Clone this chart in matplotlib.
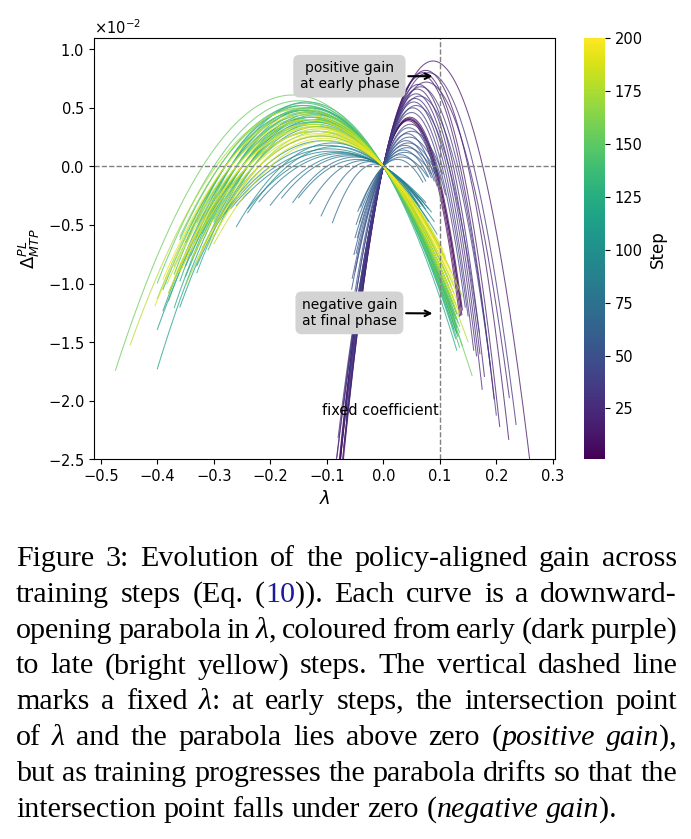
import numpy as np
import matplotlib
matplotlib.use('Agg')
import matplotlib.pyplot as plt
from matplotlib import cm, colors
from matplotlib.ticker import ScalarFormatter

# one parabola per (sampled) training step, passing through the origin
# peak_val is in units of 1e-2
steps = list(range(1, 200, 2))
peak_lam = [0.046, 0.045, 0.047, 0.044, 0.046, 0.088, 0.075, 0.070, 0.068, 0.062,
            0.076, 0.060, 0.058, 0.056, 0.080, 0.054, 0.066, 0.052, 0.064, 0.050,
            0.058, 0.048, 0.045, 0.050, 0.042, 0.046, 0.040, 0.044, 0.038, 0.042,
            0.035, 0.038, 0.030, 0.032, 0.025, -0.015, -0.025, -0.035, -0.045, -0.050,
            -0.060, -0.065, -0.075, -0.080, -0.090, -0.095, -0.085, -0.100, -0.090, -0.105,
            -0.110, -0.120, -0.115, -0.125, -0.130, -0.120, -0.135, -0.125, -0.140, -0.130,
            -0.135, -0.120, -0.140, -0.125, -0.130, -0.115, -0.135, -0.120, -0.140, -0.125,
            -0.130, -0.145, -0.120, -0.135, -0.150, -0.125, -0.140, -0.160, -0.130, -0.145,
            -0.120, -0.135, -0.110, -0.140, -0.125, -0.115, -0.130, -0.120, -0.148, -0.110,
            -0.125, -0.100, -0.130, -0.115, -0.135, -0.105, -0.120, -0.140, -0.110, -0.125]
peak_val = [0.41, 0.40, 0.42, 0.39, 0.40, 0.90, 0.82, 0.80, 0.78, 0.70,
            0.72, 0.66, 0.62, 0.58, 0.80, 0.55, 0.68, 0.50, 0.60, 0.46,
            0.52, 0.36, 0.33, 0.30, 0.28, 0.25, 0.22, 0.20, 0.18, 0.16,
            0.14, 0.12, 0.10, 0.08, 0.06, 0.02, 0.04, 0.05, 0.06, 0.08,
            0.09, 0.10, 0.11, 0.12, 0.13, 0.15, 0.17, 0.18, 0.20, 0.22,
            0.26, 0.30, 0.34, 0.38, 0.42, 0.40, 0.48, 0.45, 0.52, 0.50,
            0.55, 0.44, 0.48, 0.42, 0.46, 0.38, 0.50, 0.36, 0.54, 0.40,
            0.47, 0.52, 0.38, 0.44, 0.56, 0.42, 0.48, 0.61, 0.40, 0.50,
            0.34, 0.42, 0.30, 0.46, 0.36, 0.32, 0.40, 0.30, 0.49, 0.26,
            0.34, 0.22, 0.36, 0.28, 0.40, 0.24, 0.30, 0.44, 0.27, 0.33]
lam_lo = [-0.090, -0.088, -0.086, -0.085, -0.087, -0.085, -0.080, -0.078, -0.076, -0.072,
          -0.080, -0.068, -0.070, -0.066, -0.082, -0.064, -0.074, -0.062, -0.070, -0.060,
          -0.066, -0.058, -0.055, -0.056, -0.052, -0.055, -0.050, -0.052, -0.048, -0.050,
          -0.046, -0.048, -0.042, -0.045, -0.040, -0.090, -0.110, -0.130, -0.150, -0.160,
          -0.180, -0.200, -0.220, -0.240, -0.260, -0.270, -0.240, -0.280, -0.260, -0.300,
          -0.300, -0.320, -0.330, -0.350, -0.400, -0.360, -0.390, -0.400, -0.350, -0.370,
          -0.360, -0.330, -0.390, -0.350, -0.330, -0.310, -0.380, -0.300, -0.370, -0.320,
          -0.340, -0.360, -0.300, -0.330, -0.400, -0.310, -0.340, -0.474, -0.320, -0.360,
          -0.340, -0.370, -0.300, -0.400, -0.330, -0.350, -0.380, -0.360, -0.448, -0.320,
          -0.380, -0.300, -0.383, -0.340, -0.404, -0.310, -0.360, -0.390, -0.330, -0.370]
lam_hi = [0.139, 0.137, 0.140, 0.135, 0.138, 0.262, 0.222, 0.206, 0.196, 0.179,
          0.223, 0.171, 0.175, 0.165, 0.235, 0.160, 0.200, 0.150, 0.190, 0.145,
          0.170, 0.110, 0.100, 0.105, 0.095, 0.100, 0.090, 0.095, 0.085, 0.092,
          0.080, 0.085, 0.075, 0.078, 0.070, 0.060, 0.065, 0.060, 0.070, 0.065,
          0.070, 0.075, 0.070, 0.080, 0.075, 0.085, 0.080, 0.090, 0.085, 0.095,
          0.100, 0.110, 0.115, 0.120, 0.130, 0.125, 0.130, 0.132, 0.130, 0.128,
          0.130, 0.125, 0.132, 0.128, 0.130, 0.120, 0.130, 0.115, 0.135, 0.122,
          0.128, 0.135, 0.120, 0.128, 0.140, 0.125, 0.130, 0.157, 0.125, 0.135,
          0.120, 0.128, 0.115, 0.130, 0.125, 0.118, 0.130, 0.140, 0.150, 0.110,
          0.125, 0.105, 0.128, 0.118, 0.130, 0.110, 0.120, 0.135, 0.112, 0.125]

fixed_lam = 0.1

caption_lines = [
    "Figure 3: Evolution of the policy-aligned gain across",
    "training steps (Eq. (#10#)). Each curve is a downward-",
    "opening parabola in *λ*, coloured from early (dark purple)",
    "to late (bright yellow) steps. The vertical dashed line",
    "marks a fixed *λ*: at early steps, the intersection point",
    "of *λ* and the parabola lies above zero (*positive gain*),",
    "but as training progresses the parabola drifts so that the",
    "intersection point falls under zero (*negative gain*).",
]

fig = plt.figure(figsize=(6.91, 8.39), dpi=100)
ax = fig.add_axes([0.1365, 0.4526, 0.6671, 0.5018])
cax = fig.add_axes([0.8456, 0.4526, 0.030, 0.5018])

cmap = plt.get_cmap('viridis')
norm = colors.Normalize(vmin=1, vmax=200)

for s, lp, pv, lo, hi in zip(steps, peak_lam, peak_val, lam_lo, lam_hi):
    lam = np.linspace(lo, hi, 300)
    gain = pv * (1 - ((lam - lp) / lp) ** 2) * 1e-2
    ax.plot(lam, gain, color=cmap(norm(s)), lw=0.75, alpha=0.75)

ax.axhline(0, color='gray', ls='--', lw=1)
ax.axvline(fixed_lam, color='gray', ls='--', lw=1)

ax.set_xlim(-0.5115, 0.3044)
ax.set_ylim(-0.025, 0.01094)
fmt = ScalarFormatter(useMathText=True)
fmt.set_powerlimits((-2, -2))
ax.yaxis.set_major_formatter(fmt)
ax.tick_params(labelsize=10.5)
ax.yaxis.get_offset_text().set_fontsize(10.5)
ax.set_xlabel(r'$\lambda$', fontsize=13)
ax.set_ylabel(r'$\Delta^{PL}_{MTP}$', fontsize=13)

box = dict(boxstyle='round,pad=0.45', fc='lightgray', ec='none')
arrow = dict(arrowstyle='->', color='black', lw=1.5)
ax.annotate('positive gain\nat early phase', xy=(0.092, 0.0077), xytext=(-0.06, 0.0077),
            ha='center', va='center', fontsize=10, bbox=box, arrowprops=arrow)
ax.annotate('negative gain\nat final phase', xy=(0.092, -0.01255), xytext=(-0.06, -0.0125),
            ha='center', va='center', fontsize=10, bbox=box, arrowprops=arrow)
ax.text(0.098, -0.0208, 'fixed coefficient', ha='right', va='center', fontsize=10.5)

cb = fig.colorbar(cm.ScalarMappable(norm=norm, cmap=cmap), cax=cax)
cb.set_ticks([25, 50, 75, 100, 125, 150, 175, 200])
cb.ax.tick_params(labelsize=10.5)
cb.set_label('Step', fontsize=12)
cb.outline.set_visible(False)


def parse_runs(line):
    words = []
    italic = blue = False
    for word in line.split(' '):
        runs, buf = [], ''
        for ch in word:
            if ch in '*#':
                if buf:
                    runs.append((buf, italic, blue))
                    buf = ''
                if ch == '*':
                    italic = not italic
                else:
                    blue = not blue
            else:
                buf += ch
        if buf:
            runs.append((buf, italic, blue))
        words.append(runs)
    return words


# justified caption, placed word by word in pixel units
renderer = fig.canvas.get_renderer()
W, H = fig.get_size_inches() * fig.dpi
cap_size = 21.6
left, right = 16, 677
base0, line_gap = 566, 35.8
space = 0.25 * cap_size * fig.dpi / 72
for i, line in enumerate(caption_lines):
    y = 1 - (base0 + i * line_gap) / H
    placed, widths = [], []
    for runs in parse_runs(line):
        items, ww = [], 0
        for s, it, bl in runs:
            t = fig.text(0, y, s, fontsize=cap_size, family='Liberation Serif',
                         style='italic' if it else 'normal',
                         color='#1a1a9c' if bl else 'black', va='baseline', ha='left')
            w = t.get_window_extent(renderer).width
            items.append((t, w))
            ww += w
        placed.append(items)
        widths.append(ww)
    if i < len(caption_lines) - 1:
        gap = (right - left - sum(widths)) / (len(widths) - 1)
    else:
        gap = space
    x = left
    for items, ww in zip(placed, widths):
        xx = x
        for t, w in items:
            t.set_x(xx / W)
            xx += w
        x += ww + gap

fig.savefig('out.png', dpi=100)
